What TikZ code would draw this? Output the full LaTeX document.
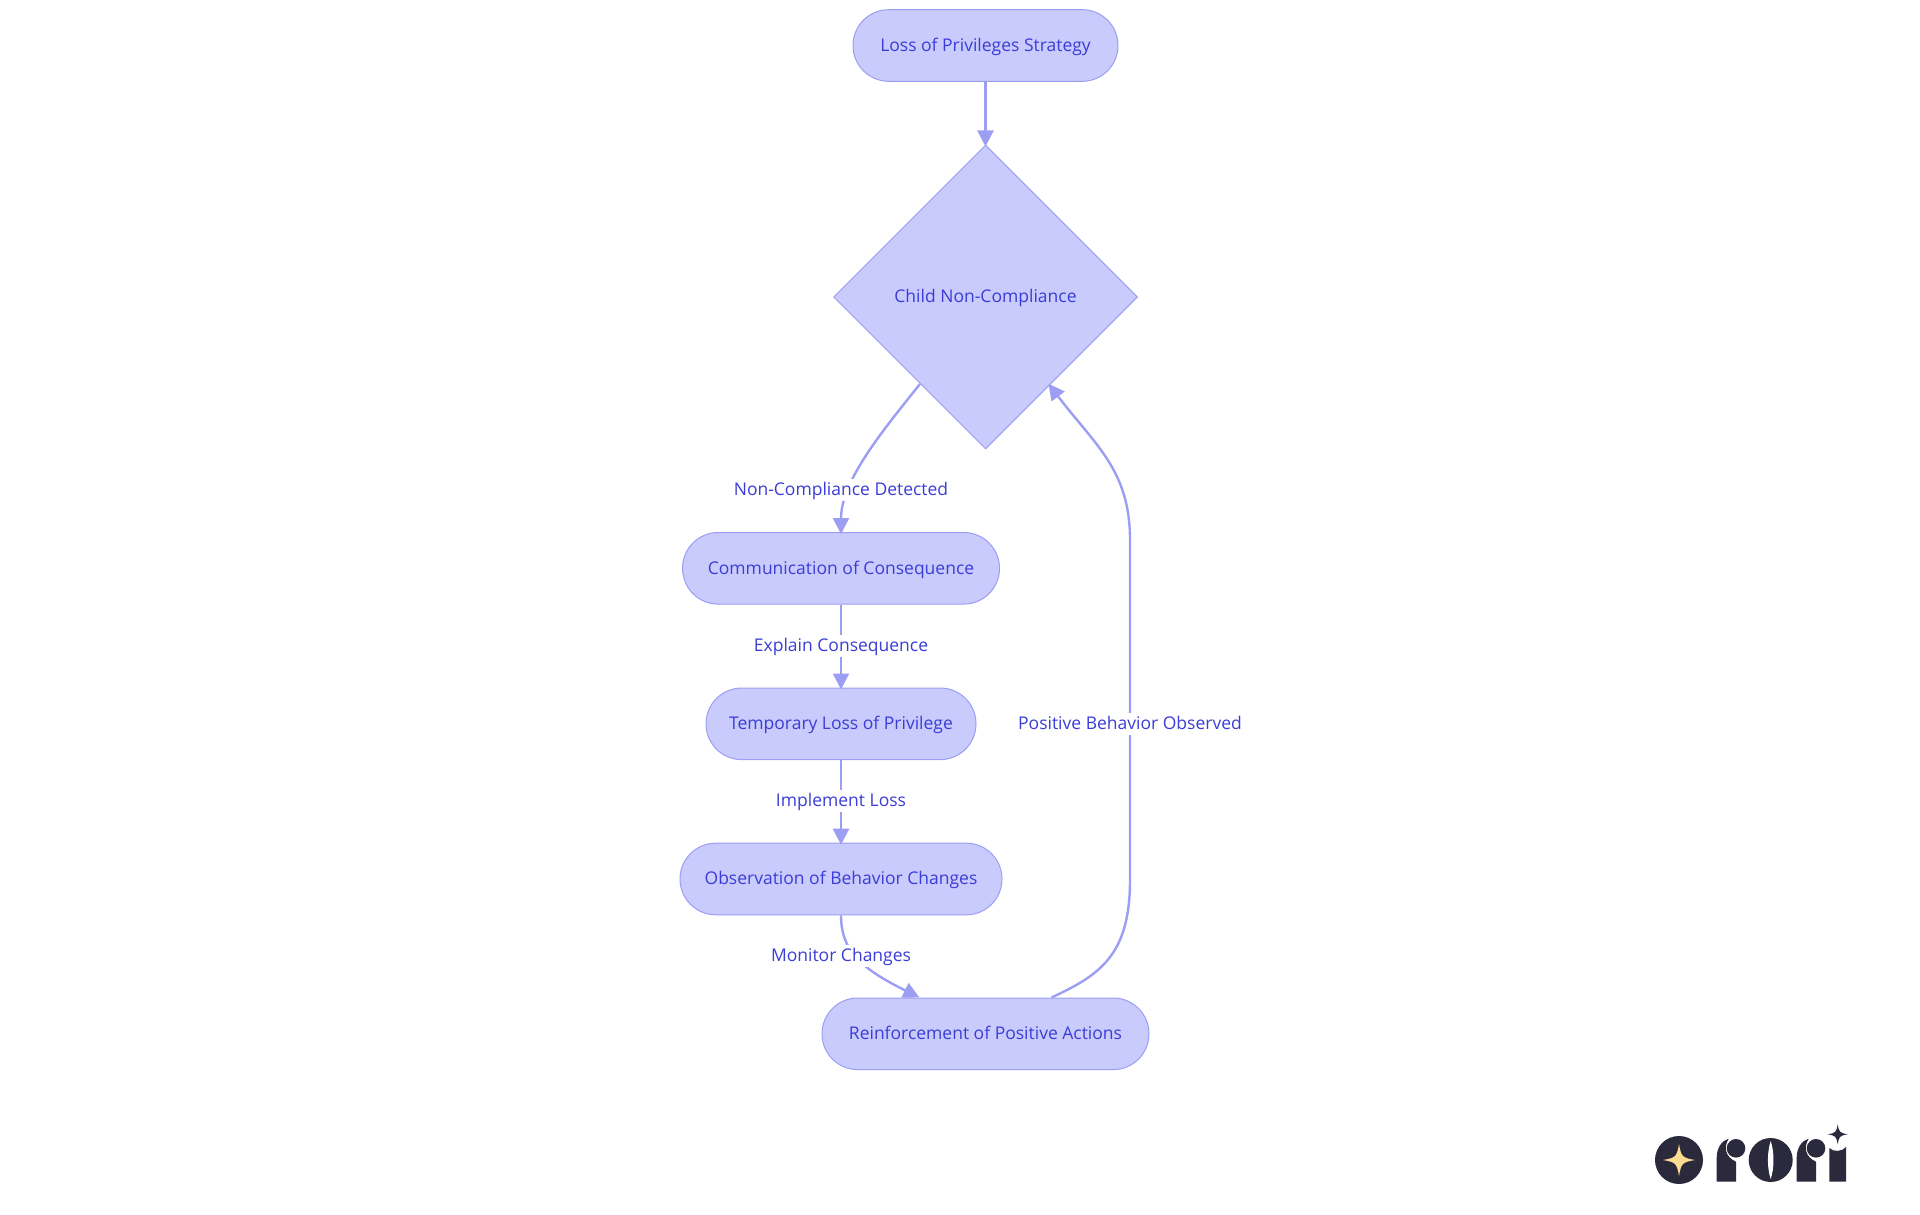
\documentclass[tikz,border=0pt]{standalone}
\usepackage{fontspec}
\setmainfont{Open Sans}
\usetikzlibrary{arrows.meta,shapes.geometric,backgrounds}
\definecolor{boxFill}{HTML}{C9CBFD}
\definecolor{boxLine}{HTML}{9C9EF3}
\definecolor{boxText}{HTML}{3A3DD6}
\definecolor{logoDark}{HTML}{2A2A3C}
\definecolor{logoGold}{HTML}{FFDB8F}
\newcommand{\sparkle}[4]{\fill[#1] (#2+#4,#3) .. controls (#2+.2*#4,#3+.14*#4) and (#2+.14*#4,#3+.2*#4) .. (#2,#3+#4) .. controls (#2-.14*#4,#3+.2*#4) and (#2-.2*#4,#3+.14*#4) .. (#2-#4,#3) .. controls (#2-.2*#4,#3-.14*#4) and (#2-.14*#4,#3-.2*#4) .. (#2,#3-#4) .. controls (#2+.14*#4,#3-.2*#4) and (#2+.2*#4,#3-.14*#4) .. (#2+#4,#3) -- cycle;}
\tikzset{
	boxFont/.style={text height=15.6,text depth=4,font=\fontsize{17.5}{20}\selectfont},
	pill/.style={boxFont,draw=boxLine,fill=boxFill,text=boxText,line width=1,minimum height=71.6,rounded corners=35.7,inner sep=0},
	edgeText/.style={boxFont,fill=white,text=boxText,inner xsep=1,inner ysep=1.2},
	edge/.style={draw=boxLine,line width=2.4,shorten >=-2,->},
	logoR/.pic={
		\fill[logoDark] (0,0) -- (0,-24) .. controls (0,-34) and (5,-41) .. (12,-43) .. controls (7,-35) and (8,-25) .. (19.3,-20) -- (19.3,0) -- cycle;
		\fill[logoDark] (19.3,-33.4) circle (9.3);
	}
}
\begin{document}
\begin{tikzpicture}[x=1pt,y=-1pt]
	\tikzset{>={Triangle[length=16pt,width=16pt]}}
	\useasboundingbox (0,0) rectangle (1920,1215);

	% The boxes of the flow
	\node[pill,minimum width=265] (rectStrategy) at (985.5,45.5) {Loss of Privileges Strategy};
	\node[boxFont,draw=boxLine,fill=boxFill,text=boxText,line width=1,diamond,aspect=1,inner sep=0,minimum width=304,minimum height=304] (rectChild) at (985.5,297) {Child Non-Compliance};
	\node[pill,minimum width=317] (rectComm) at (841,568.3) {Communication of Consequence};
	\node[pill,minimum width=270] (rectLoss) at (841,723.8) {Temporary Loss of Privilege};
	\node[pill,minimum width=322] (rectObs) at (841,879) {Observation of Behavior Changes};
	\node[pill,minimum width=327] (rectReinf) at (985.5,1033.8) {Reinforcement of Positive Actions};

	% Straight arrows
	\draw[edge] (rectStrategy) -- (rectChild);
	\draw[edge] (rectComm) -- (rectLoss);
	\draw[edge] (rectLoss) -- (rectObs);

	% Curved arrows
	\draw[edge] (rectChild.-127) .. controls (885,428) and (841,480) .. (rectComm.north);
	\draw[edge] ([xshift=66]rectReinf.north) .. controls (1100,975) and (1130,955) .. (1130,880) -- (1130,540) .. controls (1130,470) and (1095,445) .. (rectChild.-54);
	\begin{pgfonlayer}{background}
		\draw[edge] (rectObs.south) .. controls (841,950) and (860,968) .. ([xshift=-68,yshift=1]rectReinf.north);
	\end{pgfonlayer}

	% Annotate the arrows
	\node[edgeText] (lblDetected) at (841,490) {Non-Compliance Detected};
	\node[edgeText] (lblExplain) at (841,646) {Explain Consequence};
	\node[edgeText] (lblImplement) at (841,800.7) {Implement Loss};
	\node[edgeText] (lblMonitor) at (841,956) {Monitor Changes};
	\node[edgeText] (lblPositive) at (1130,723.5) {Positive Behavior Observed};

	% Logo in the corner
	\fill[logoDark] (1679,1160) circle (24);
	\sparkle{logoGold}{1679}{1160}{16}
	\pic at (1716.7,1181.7) {logoR};
	\fill[logoDark] (1770.7,1160) circle (22);
	\fill[white] (1770.7,1141) .. controls (1767,1152) and (1767,1168) .. (1770.7,1179) .. controls (1774.4,1168) and (1774.4,1152) .. (1770.7,1141) -- cycle;
	\pic at (1796.7,1181.7) {logoR};
	\fill[logoDark] (1829.3,1181.7) -- (1829.3,1148) .. controls (1833,1152) and (1842,1152) .. (1846,1147) -- (1846,1181.7) -- cycle;
	\sparkle{logoDark}{1837.7}{1134.3}{10}
\end{tikzpicture}
\end{document}
